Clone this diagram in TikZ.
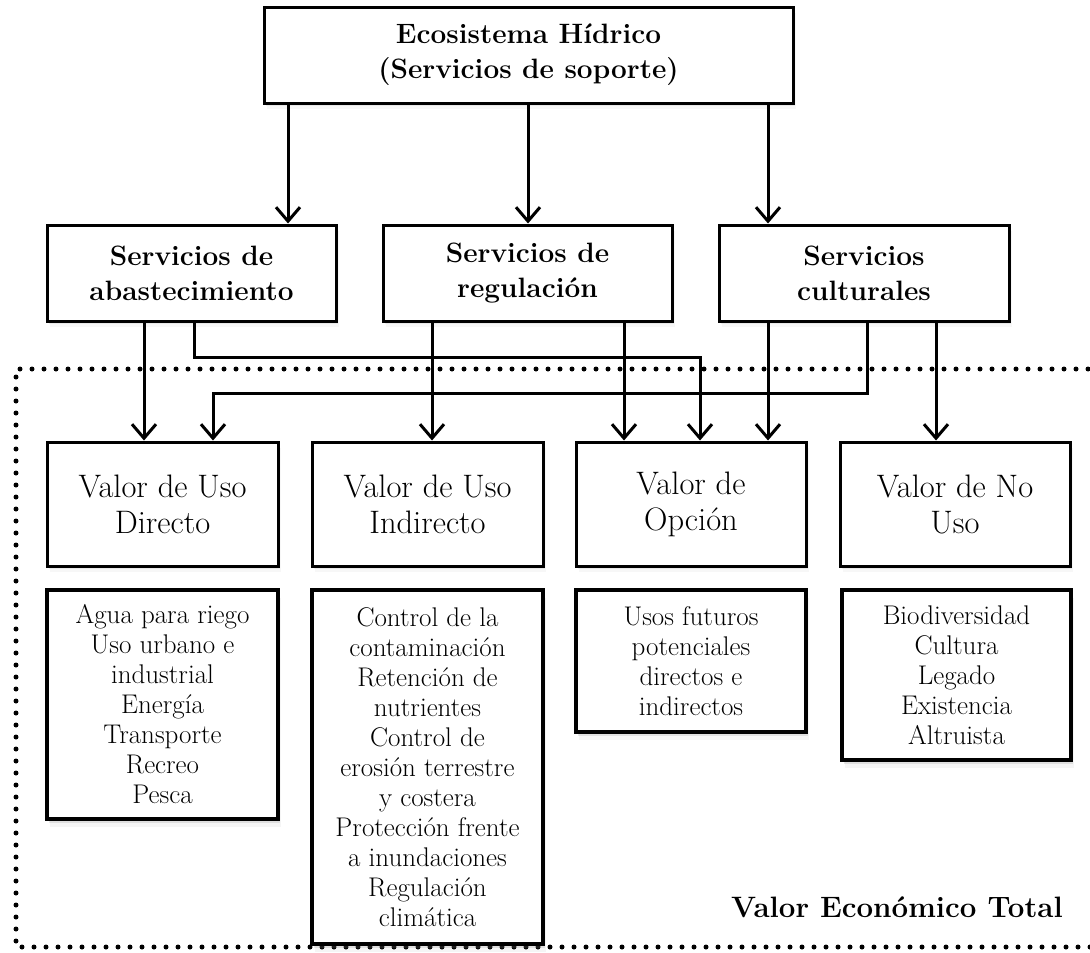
\documentclass[tikz,border=0pt]{standalone}
\usetikzlibrary{arrows.meta,shadows,calc}
\tikzset{
  boxbase/.style={draw=black, fill=white, inner sep=0pt, align=center, anchor=center},
  headbox/.style={boxbase, line width=3pt,
    drop shadow={opacity=0.12, shadow xshift=1.5pt, shadow yshift=-3pt},
    drop shadow={opacity=0.06, shadow xshift=2.5pt, shadow yshift=-6pt},
    font=\fontsize{28}{35}\selectfont\bfseries},
  valbox/.style={boxbase, line width=3pt,
    drop shadow={opacity=0.12, shadow xshift=1.5pt, shadow yshift=-3pt},
    drop shadow={opacity=0.06, shadow xshift=2.5pt, shadow yshift=-6pt},
    font=\fontsize{32.5}{36}\selectfont},
  listbox/.style={boxbase, line width=4.5pt,
    drop shadow={opacity=0.18, shadow xshift=1.5pt, shadow yshift=-4pt},
    drop shadow={opacity=0.08, shadow xshift=3pt, shadow yshift=-8pt},
    font=\fontsize{27}{30}\selectfont},
  arr/.style={line width=3pt, -{Straight Barb[length=14pt,width=24pt]}},
  dotline/.style={line width=5pt, dash pattern=on 0pt off 12pt, line cap=round},
}
\begin{document}
\begin{tikzpicture}[x=1pt,y=-1pt]
\useasboundingbox (0,0) rectangle (1090,953);
\fill[white] (0,0) rectangle (1090,953);

% dotted frame (right side beyond the picture)
\draw[dotline] (1100,369) -- (16,369) -- (16,947) -- (1100,947);

% top
\node[headbox, minimum width=529pt, minimum height=96pt] (top) at (528.5,55)
  {Ecosistema Hídrico\\(Servicios de soporte)};

% second row
\node[headbox, minimum width=289pt, minimum height=96pt] (sa) at (191.5,273)
  {Servicios de\\abastecimiento};
\node[headbox, minimum width=289pt, minimum height=96pt] (sr) at (527.5,273)
  {Servicios de\\regulación};
\node[headbox, minimum width=290pt, minimum height=96pt] (sc) at (864,273)
  {Servicios\\culturales};

% value boxes
\node[valbox, minimum width=231pt, minimum height=124pt] (vd) at (162.5,504)
  {Valor de Uso\\Directo};
\node[valbox, minimum width=231pt, minimum height=124pt] (vi) at (427.5,504)
  {Valor de Uso\\Indirecto};
\node[valbox, minimum width=230pt, minimum height=124pt] (vo) at (691,504)
  {Valor de\\Opción};
\node[valbox, minimum width=230pt, minimum height=124pt] (vn) at (955,504)
  {Valor de No\\Uso};

% list boxes
\node[listbox, minimum width=231pt, minimum height=229pt] (ld) at (162.5,704.5)
  {Agua para riego\\Uso urbano e\\industrial\\Energía\\Transporte\\Recreo\\Pesca};
\node[listbox, minimum width=231pt, minimum height=354pt] (li) at (427.5,767)
  {Control de la\\contaminación\\Retención de\\nutrientes\\Control de\\erosión terrestre\\y costera\\Protección frente\\a inundaciones\\Regulación\\climática};
\node[listbox, minimum width=230pt, minimum height=142pt] (lo) at (691,661)
  {Usos futuros\\potenciales\\directos e\\indirectos};
\node[listbox, minimum width=229pt, minimum height=170pt] (ln) at (956.5,675)
  {Biodiversidad\\Cultura\\Legado\\Existencia\\Altruista};

\node[anchor=east, inner sep=0pt, font=\fontsize{29.5}{33}\selectfont\bfseries] (vet) at (1063,907)
  {Valor Económico Total};

% arrows from top
\draw[arr] (top.south -| 288,0) -- (sa.north -| 288,0);
\draw[arr] (top.south -| 528,0) -- (sr.north -| 528,0);
\draw[arr] (top.south -| 768,0) -- (sc.north -| 768,0);

% arrows from second row
\draw[arr] (sa.south -| 144,0) -- (vd.north -| 144,0);
\draw[arr] (sa.south -| 194,0) -- (194,357.5) -- (700,357.5) -- (vo.north -| 700,0);
\draw[arr] (sr.south -| 432,0) -- (vi.north -| 432,0);
\draw[arr] (sr.south -| 624,0) -- (vo.north -| 624,0);
\draw[arr] (sc.south -| 768,0) -- (vo.north -| 768,0);
\draw[arr] (sc.south -| 867,0) -- (867,393) -- (213,393) -- (vd.north -| 213,0);
\draw[arr] (sc.south -| 936,0) -- (vn.north -| 936,0);
\end{tikzpicture}
\end{document}
